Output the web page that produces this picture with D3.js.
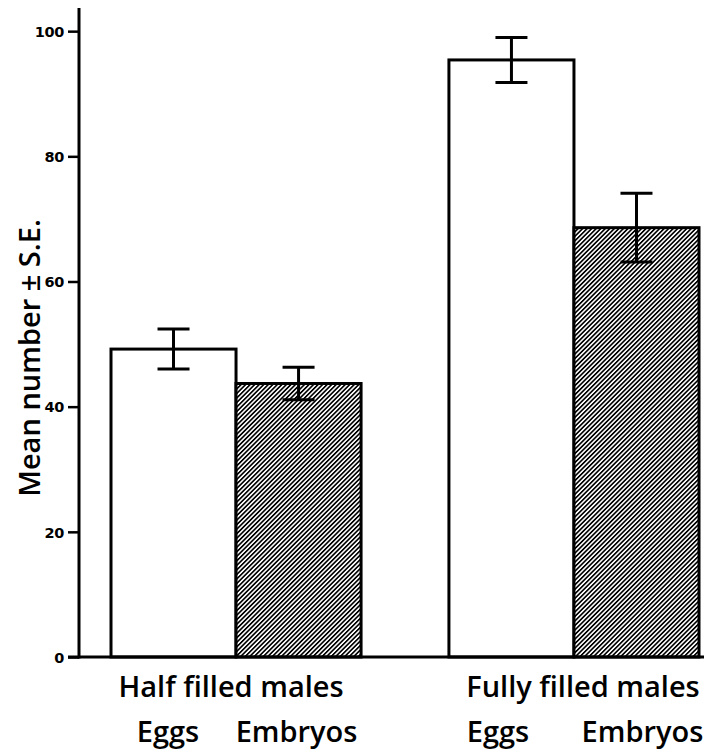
<!DOCTYPE html>
<html><head><meta charset="utf-8">
<script src="https://cdn.jsdelivr.net/npm/d3@7"></script>
<style>
html,body{margin:0;padding:0;background:#fff;}
svg{display:block;}
</style></head>
<body>
<svg id="chart" width="704" height="751"></svg>
<script>
const groups = ["Half filled males", "Fully filled males"];
const subgroups = ["Eggs", "Embryos"];
const meansEggs = [49.2, 95.4];
const meansEmbryos = [43.7, 68.6];
const seEggs = [3.2, 3.6];
const seEmbryos = [2.6, 5.5];
const yTicks = [0, 20, 40, 60, 80, 100];
const yLabel = "Mean number \u00B1 S.E.";

const data = [];
groups.forEach((g, i) => {
  data.push({group: g, sub: "Eggs", mean: meansEggs[i], se: seEggs[i]});
  data.push({group: g, sub: "Embryos", mean: meansEmbryos[i], se: seEmbryos[i]});
});

const svg = d3.select("#chart");
const axisX = 79, baseY = 657;

const y = d3.scaleLinear().domain([0, 103.7]).range([baseY, 8]);
const x0 = d3.scaleBand().domain(groups).range([111, 699]).paddingInner(0.26).paddingOuter(0);
const x1 = d3.scaleBand().domain(subgroups).range([0, x0.bandwidth()]).padding(0);

const defs = svg.append("defs");
const pat = defs.append("pattern").attr("id", "hatch")
  .attr("patternUnits", "userSpaceOnUse").attr("width", 3.2).attr("height", 3.2)
  .attr("patternTransform", "rotate(45)");
pat.append("rect").attr("width", 3.2).attr("height", 3.2).attr("fill", "#fff");
pat.append("line").attr("x1", 0.8).attr("y1", 0).attr("x2", 0.8).attr("y2", 3.2)
  .attr("stroke", "#000").attr("stroke-width", 1.7);

// bars
const bars = svg.append("g");
bars.selectAll("rect").data(data).join("rect")
  .attr("x", d => x0(d.group) + x1(d.sub))
  .attr("y", d => y(d.mean))
  .attr("width", x1.bandwidth())
  .attr("height", d => y(0) - y(d.mean))
  .attr("fill", d => d.sub === "Eggs" ? "#fff" : "url(#hatch)")
  .attr("stroke", "#000").attr("stroke-width", 3);

// error bars
const capW = 32;
const eb = svg.append("g").attr("stroke", "#000").attr("stroke-width", 3);
data.forEach(d => {
  const cx = x0(d.group) + x1(d.sub) + x1.bandwidth() / 2;
  eb.append("line").attr("x1", cx).attr("x2", cx).attr("y1", y(d.mean + d.se)).attr("y2", y(d.mean - d.se));
  eb.append("line").attr("x1", cx - capW/2).attr("x2", cx + capW/2).attr("y1", y(d.mean + d.se)).attr("y2", y(d.mean + d.se));
  eb.append("line").attr("x1", cx - capW/2).attr("x2", cx + capW/2).attr("y1", y(d.mean - d.se)).attr("y2", y(d.mean - d.se));
});

// y axis
const yAxis = d3.axisLeft(y).tickValues(yTicks).tickSize(11).tickPadding(4).tickFormat(d3.format("d"));
const gy = svg.append("g").attr("transform", `translate(${axisX},0)`).call(yAxis);
gy.attr("font-size", 14.5).attr("font-family", "DejaVu Sans, sans-serif");
gy.select(".domain").attr("stroke", "#000").attr("stroke-width", 3)
  .attr("d", `M0,${y(103.7)}V${baseY + 1.5}`);
gy.selectAll(".tick line").attr("stroke", "#000").attr("stroke-width", 2.5);
gy.selectAll(".tick text").attr("font-family", "DejaVu Sans, sans-serif")
  .attr("font-weight", "bold").attr("font-size", 14.5).attr("letter-spacing", -0.3)
  .attr("fill", "#000").attr("dy", "0.36em");

// x axis line
svg.append("line").attr("x1", 68).attr("x2", 704).attr("y1", baseY).attr("y2", baseY)
  .attr("stroke", "#000").attr("stroke-width", 3);

// group labels (small horizontal nudges as in the original layout)
const lblFont = "'Open Sans', Lato, sans-serif";
const lblSize = 29;
const lblWeight = 600;
const groupNudge = [-5, 9];
const subNudge = [[-5.5, -2], [-13.5, 6]];
svg.append("g").selectAll("text").data(groups).join("text")
  .attr("x", (g, i) => x0(g) + x0.bandwidth() / 2 + groupNudge[i])
  .attr("y", 697)
  .attr("text-anchor", "middle")
  .attr("font-family", lblFont).attr("font-size", lblSize).attr("font-weight", lblWeight).attr("fill", "#000")
  .text(g => g);

const subLabels = [];
groups.forEach((g, gi) => subgroups.forEach((s, si) => subLabels.push({g, s, n: subNudge[gi][si]})));
svg.append("g").selectAll("text").data(subLabels).join("text")
  .attr("x", d => x0(d.g) + x1(d.s) + x1.bandwidth() / 2 + d.n)
  .attr("y", 742)
  .attr("text-anchor", "middle")
  .attr("font-family", lblFont).attr("font-size", lblSize).attr("font-weight", lblWeight).attr("fill", "#000")
  .text(d => d.s);

// y label
svg.append("text")
  .attr("transform", `translate(40,358) rotate(-90)`)
  .attr("text-anchor", "middle")
  .attr("font-family", lblFont).attr("font-size", lblSize).attr("font-weight", lblWeight).attr("fill", "#000")
  .text(yLabel);
</script>
</body></html>
